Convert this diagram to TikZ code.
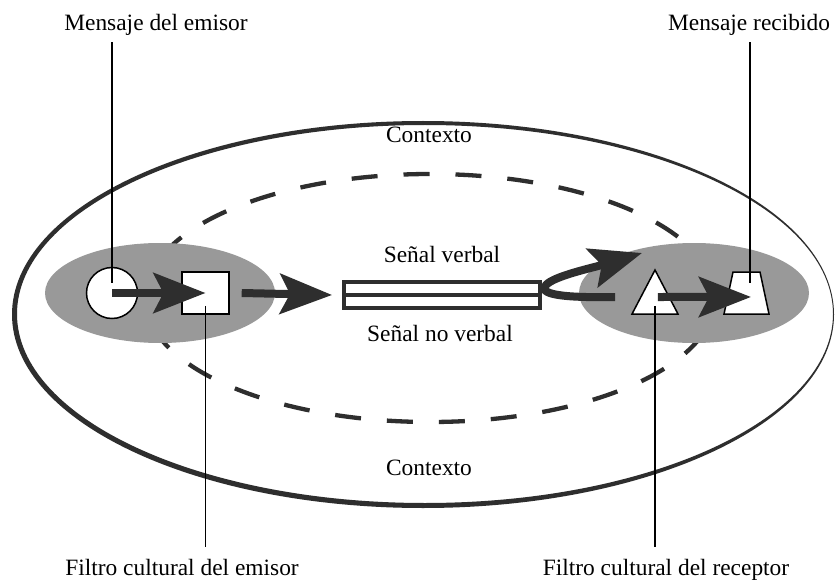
\documentclass[tikz,border=0pt]{standalone}
\usepackage{fontspec}
\setmainfont{Liberation Serif}
\usetikzlibrary{arrows.meta,positioning}
\definecolor{inkgray}{HTML}{2E2E2E}
\definecolor{halogray}{HTML}{999999}
\tikzset{%
  % Specifications for style of nodes:
      labeltext/.style = {inner sep=0pt, anchor=base,
                          font=\fontsize{23.5}{28}\selectfont},
       shapebox/.style = {draw=black, fill=white, line width=1.5bp, inner sep=0pt},
         leader/.style = {draw=black, line width=1.5bp},
       bigarrow/.style = {draw=inkgray, line width=8bp,
                          -{Stealth[length=52bp, width=40bp, inset=10bp]}},
     signalline/.style = {draw=inkgray, line width=4bp},
       halofill/.style = {fill=halogray}
}
\begin{document}
\begin{tikzpicture}[x=1bp, y=-1bp]
  \fill[white] (0,0) rectangle (835,582);
  \useasboundingbox (0,0) rectangle (835,582);

  % context: outer ring and dashed inner zone
  \fill[inkgray, even odd rule] (423,314.5) ellipse [x radius=411, y radius=193.5]
                                (425,314) ellipse [x radius=408, y radius=189];
  \draw[inkgray, line width=4.3bp, dash pattern=on 26bp off 26bp, dash phase=13bp]
        (430,298) ellipse [x radius=285, y radius=124];
  \fill[halofill] (160,293) ellipse [x radius=115, y radius=50];
  \fill[halofill] (694,293) ellipse [x radius=115, y radius=50];

  \node (ctxtop) [labeltext] at (429,143) {Contexto};
  \node (ctxbot) [labeltext] at (429,475) {Contexto};

  % sender side
  \node (emisor)    [shapebox, circle, minimum size=51bp] at (112,293) {};
  \node (filtroemi) [shapebox, rectangle, minimum width=47bp, minimum height=42bp] at (205.5,293) {};

  % channel
  \node (canal) [signalline, rectangle, minimum width=196bp, minimum height=26bp,
                 inner sep=0pt, fill=white] at (442,295) {};
  \draw[signalline] (canal.west) -- (canal.east);
  \node (verbal)   [labeltext, above=18bp of canal.north, anchor=base] {Señal verbal};
  \node (noverbal) [labeltext, anchor=base] at (440,341) {Señal no verbal};

  % receiver side
  \coordinate (filtrorec) at (655,297);
  \coordinate (recibido)  at (747,293);
  \draw[shapebox] (632,314) -- (678,314) -- (655,270) -- cycle;
  \draw[shapebox] (724,314) -- (769,314) -- (760,272) -- (733,272) -- cycle;

  \coordinate (loopstart) at ([xshift=-40pt]filtrorec);
  \coordinate (looptip)   at (642,253);

  % arrows
  \draw[bigarrow] (emisor.center) -- (filtroemi.center);
  \draw[bigarrow] ([xshift=12pt]filtroemi.east) -- ([xshift=-10pt]canal.west);
  \draw[bigarrow] (loopstart) .. controls (560,298) and (538,294) .. (546,285)
                              .. controls (554,276) and (592,268) .. (looptip);
  \draw[bigarrow] ([xshift=3pt]filtrorec) -- ([xshift=4pt,yshift=-4pt]recibido);

  % labels and leaders
  \node (msgemi) [labeltext] at (156,31)  {Mensaje del emisor};
  \node (msgrec) [labeltext] at (749,31)  {Mensaje recibido};
  \node (filemi) [labeltext] at (182,575) {Filtro cultural del emisor};
  \node (filrec) [labeltext] at (666,575) {Filtro cultural del receptor};

  \draw[leader] ([yshift=-6pt]emisor.center |- msgemi.south) -- ([yshift=10pt]emisor.center);
  \draw[leader] ([yshift=-6pt,xshift=3pt]recibido |- msgrec.south) -- ([yshift=10pt,xshift=3pt]recibido);
  \draw[leader] ([yshift=-13pt]filtroemi.center) -- ([yshift=12pt]filtroemi.center |- filemi.north);
  \draw[leader] ([yshift=-9pt]filtrorec) -- ([yshift=12pt]filtrorec |- filrec.north);
\end{tikzpicture}
\end{document}
